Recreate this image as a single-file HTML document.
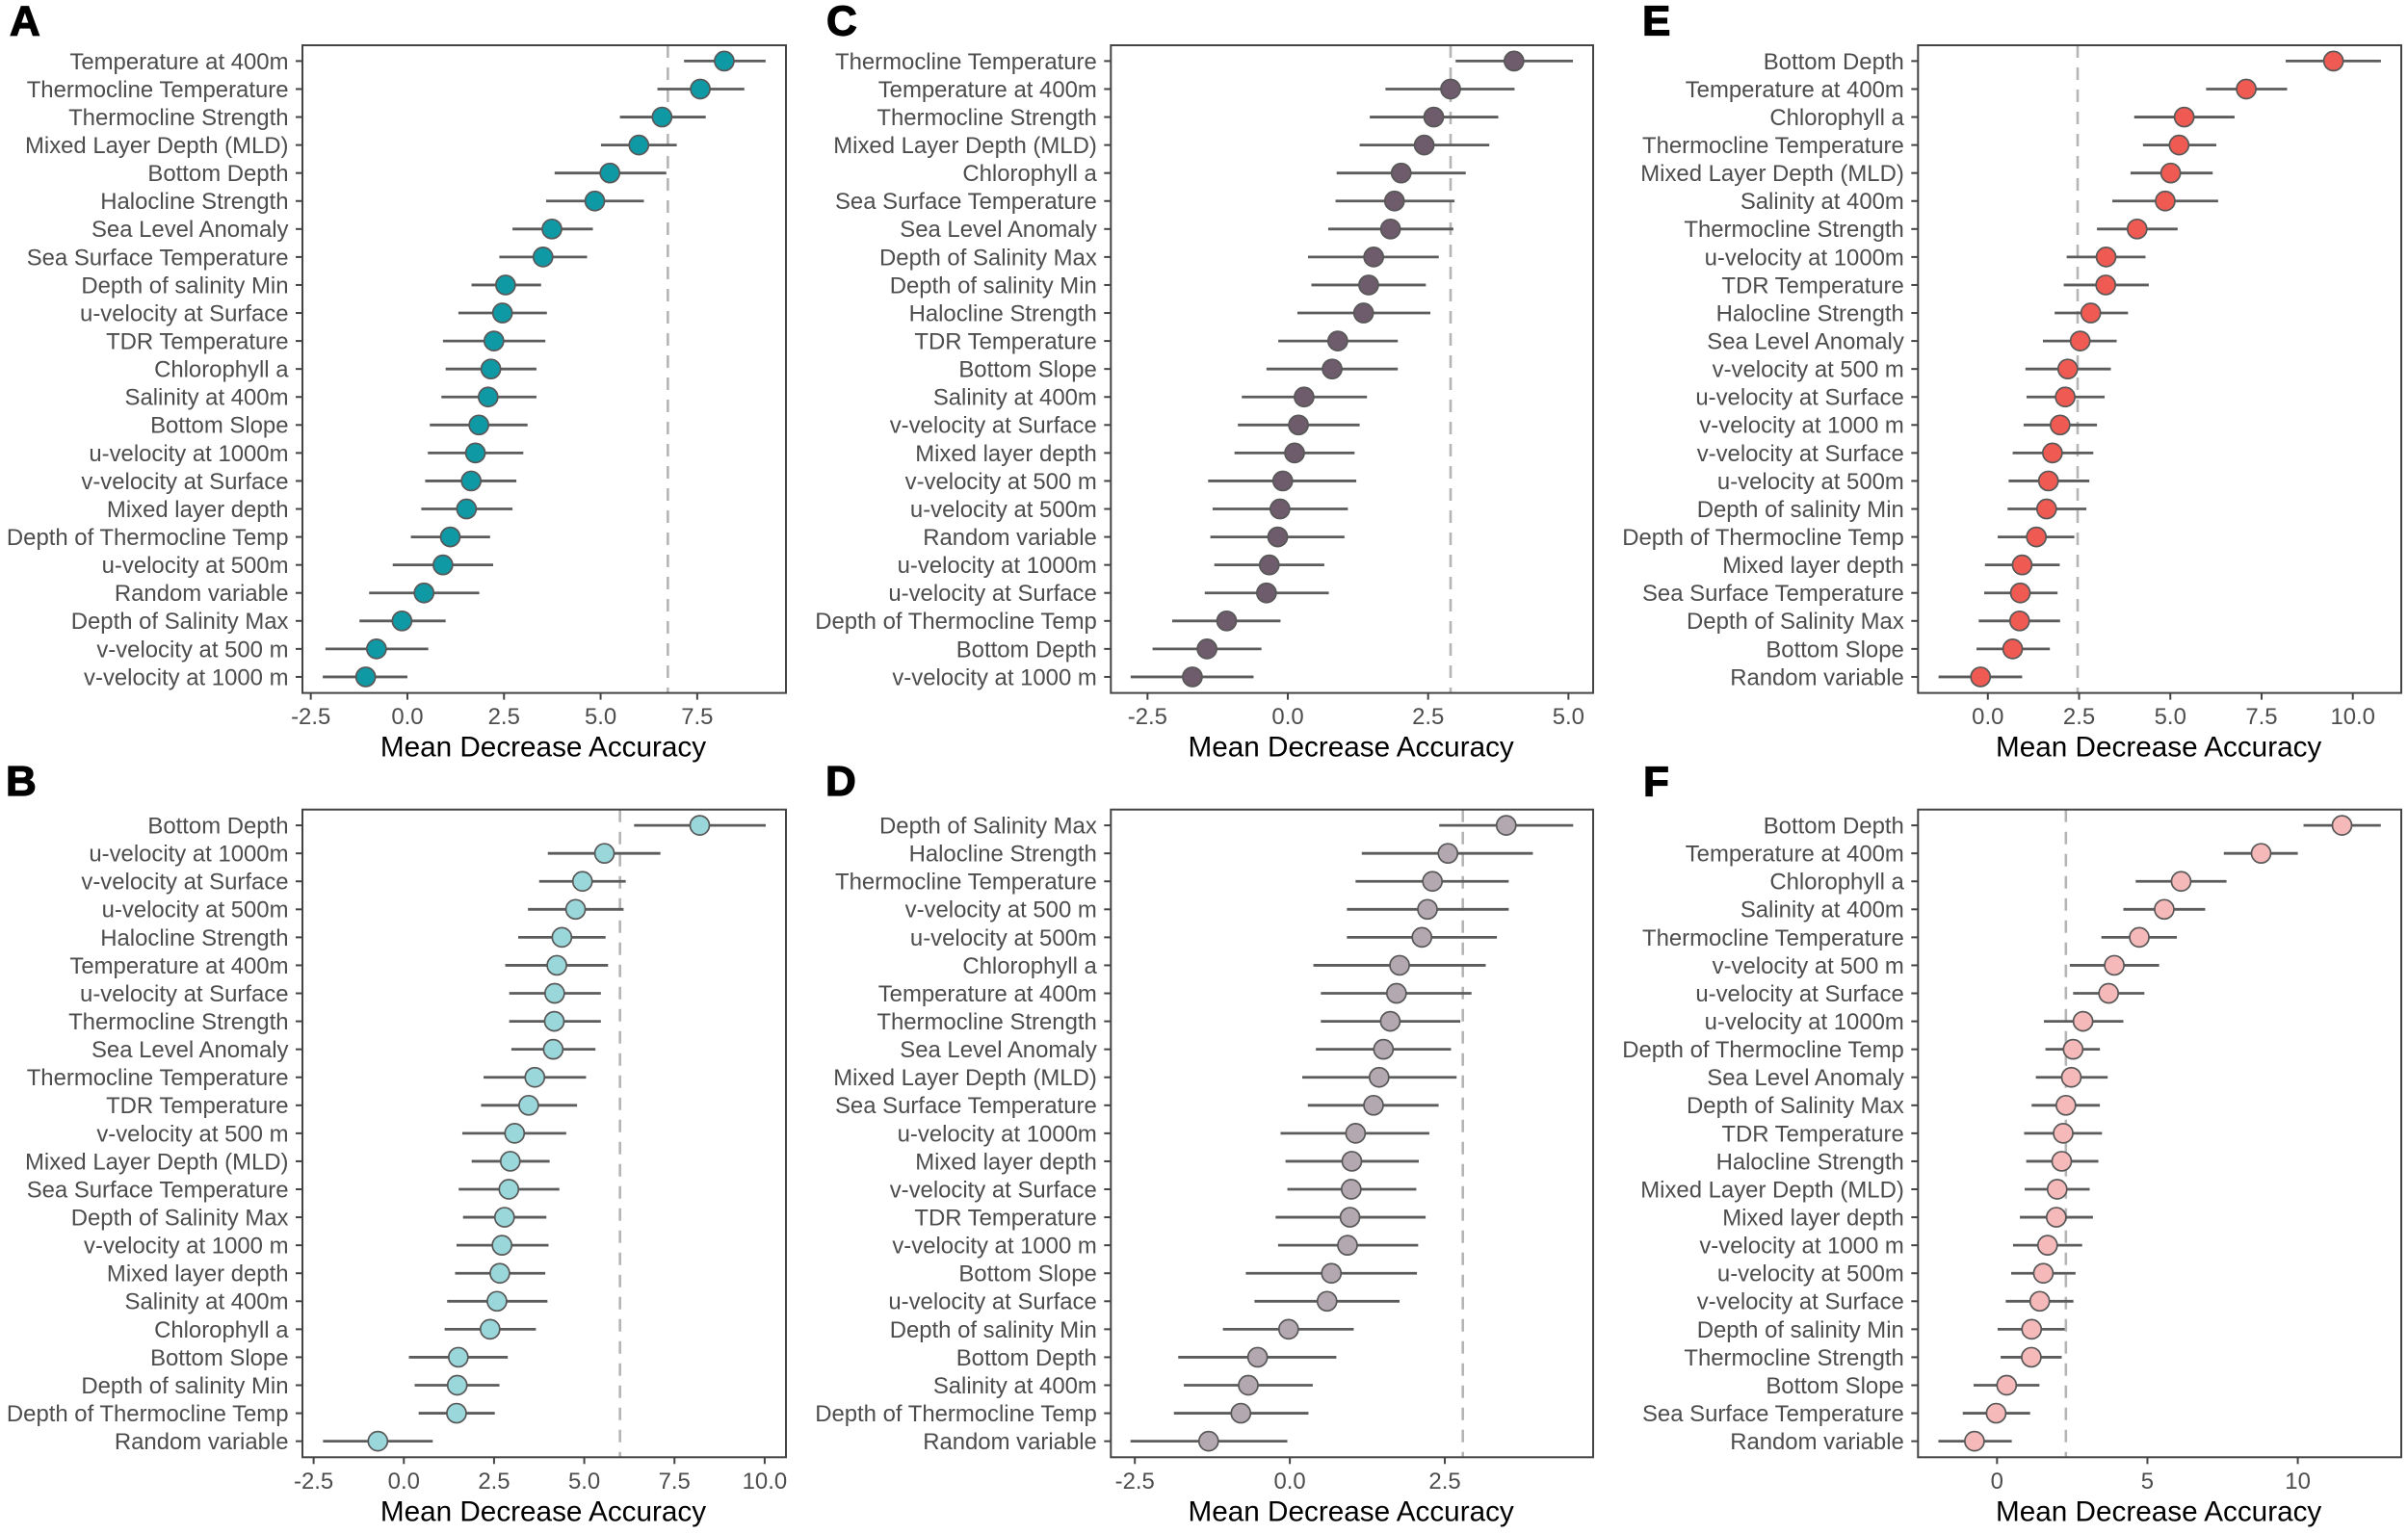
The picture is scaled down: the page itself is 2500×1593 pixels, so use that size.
<!DOCTYPE html>
<html lang="en">
<head>
<meta charset="utf-8">
<title>Mean Decrease Accuracy panels</title>
<style>
html,body{margin:0;padding:0;background:#fff;}
svg{display:block;font-family:"Liberation Sans",Arial,sans-serif;}
</style>
</head>
<body>
<svg id="figure" width="2500" height="1593" viewBox="0 0 2500 1593" xmlns="http://www.w3.org/2000/svg"></svg>
<script>
const labelsA = ["Temperature at 400m","Thermocline Temperature","Thermocline Strength","Mixed Layer Depth (MLD)","Bottom Depth","Halocline Strength","Sea Level Anomaly","Sea Surface Temperature","Depth of salinity Min","u-velocity at Surface","TDR Temperature","Chlorophyll a","Salinity at 400m","Bottom Slope","u-velocity at 1000m","v-velocity at Surface","Mixed layer depth","Depth of Thermocline Temp","u-velocity at 500m","Random variable","Depth of Salinity Max","v-velocity at 500 m","v-velocity at 1000 m"];
const meanA = [8.2,7.58,6.59,5.99,5.24,4.85,3.74,3.51,2.54,2.46,2.24,2.16,2.09,1.85,1.76,1.65,1.53,1.11,0.92,0.43,-0.14,-0.8,-1.08];
const lowA = [7.16,6.47,5.5,5.01,3.81,3.59,2.72,2.38,1.66,1.32,0.92,0.99,0.88,0.58,0.53,0.46,0.36,0.09,-0.38,-0.99,-1.24,-2.12,-2.19];
const highA = [9.27,8.72,7.72,6.97,6.7,6.12,4.8,4.65,3.46,3.61,3.57,3.34,3.34,3.11,3.0,2.82,2.72,2.14,2.22,1.86,0.99,0.54,0];
const ticksA = [-2.5,0,2.5,5,7.5];
const tickLabelsA = ["-2.5","0.0","2.5","5.0","7.5"];
const cutoffA = [6.74];

const labelsB = ["Bottom Depth","u-velocity at 1000m","v-velocity at Surface","u-velocity at 500m","Halocline Strength","Temperature at 400m","u-velocity at Surface","Thermocline Strength","Sea Level Anomaly","Thermocline Temperature","TDR Temperature","v-velocity at 500 m","Mixed Layer Depth (MLD)","Sea Surface Temperature","Depth of Salinity Max","v-velocity at 1000 m","Mixed layer depth","Salinity at 400m","Chlorophyll a","Bottom Slope","Depth of salinity Min","Depth of Thermocline Temp","Random variable"];
const meanB = [8.2,5.56,4.95,4.76,4.38,4.24,4.18,4.17,4.14,3.63,3.46,3.07,2.95,2.91,2.79,2.72,2.66,2.58,2.39,1.51,1.48,1.46,-0.72];
const lowB = [6.38,3.99,3.75,3.44,3.17,2.81,2.92,2.92,2.98,2.21,2.14,1.62,1.88,1.52,1.64,1.46,1.42,1.2,1.13,0.14,0.3,0.41,-2.24];
const highB = [10.03,7.11,6.15,6.09,5.59,5.66,5.46,5.46,5.31,5.05,4.8,4.5,4.04,4.31,3.95,4.01,3.92,3.98,3.66,2.88,2.65,2.52,0.8];
const ticksB = [-2.5,0,2.5,5,7.5,10];
const tickLabelsB = ["-2.5","0.0","2.5","5.0","7.5","10.0"];
const cutoffB = [5.99];

const labelsC = ["Thermocline Temperature","Temperature at 400m","Thermocline Strength","Mixed Layer Depth (MLD)","Chlorophyll a","Sea Surface Temperature","Sea Level Anomaly","Depth of Salinity Max","Depth of salinity Min","Halocline Strength","TDR Temperature","Bottom Slope","Salinity at 400m","v-velocity at Surface","Mixed layer depth","v-velocity at 500 m","u-velocity at 500m","Random variable","u-velocity at 1000m","u-velocity at Surface","Depth of Thermocline Temp","Bottom Depth","v-velocity at 1000 m"];
const meanC = [4.03,2.9,2.6,2.43,2.02,1.9,1.83,1.53,1.44,1.35,0.89,0.79,0.29,0.19,0.12,-0.09,-0.14,-0.18,-0.33,-0.38,-1.09,-1.44,-1.7];
const lowC = [2.99,1.74,1.46,1.28,0.87,0.85,0.72,0.36,0.42,0.17,-0.17,-0.38,-0.82,-0.89,-0.95,-1.42,-1.34,-1.38,-1.31,-1.48,-2.06,-2.41,-2.8];
const highC = [5.08,4.04,3.75,3.59,3.17,2.97,2.95,2.69,2.46,2.54,1.96,1.96,1.41,1.28,1.19,1.22,1.07,1.01,0.65,0.73,-0.13,-0.47,-0.61];
const ticksC = [-2.5,0,2.5,5];
const tickLabelsC = ["-2.5","0.0","2.5","5.0"];
const cutoffC = [2.9];

const labelsD = ["Depth of Salinity Max","Halocline Strength","Thermocline Temperature","v-velocity at 500 m","u-velocity at 500m","Chlorophyll a","Temperature at 400m","Thermocline Strength","Sea Level Anomaly","Mixed Layer Depth (MLD)","Sea Surface Temperature","u-velocity at 1000m","Mixed layer depth","v-velocity at Surface","TDR Temperature","v-velocity at 1000 m","Bottom Slope","u-velocity at Surface","Depth of salinity Min","Bottom Depth","Salinity at 400m","Depth of Thermocline Temp","Random variable"];
const meanD = [3.49,2.55,2.3,2.22,2.13,1.77,1.72,1.62,1.51,1.44,1.35,1.06,1.0,0.99,0.97,0.93,0.67,0.6,-0.02,-0.52,-0.67,-0.79,-1.31];
const lowD = [2.41,1.16,1.06,0.92,0.92,0.38,0.5,0.5,0.42,0.2,0.29,-0.15,-0.07,-0.04,-0.23,-0.19,-0.71,-0.57,-1.08,-1.8,-1.71,-1.87,-2.57];
const highD = [4.57,3.92,3.53,3.53,3.34,3.16,2.93,2.75,2.6,2.69,2.4,2.25,2.08,2.04,2.19,2.07,2.05,1.77,1.03,0.75,0.37,0.3,-0.04];
const ticksD = [-2.5,0,2.5];
const tickLabelsD = ["-2.5","0.0","2.5"];
const cutoffD = [2.79];

const labelsE = ["Bottom Depth","Temperature at 400m","Chlorophyll a","Thermocline Temperature","Mixed Layer Depth (MLD)","Salinity at 400m","Thermocline Strength","u-velocity at 1000m","TDR Temperature","Halocline Strength","Sea Level Anomaly","v-velocity at 500 m","u-velocity at Surface","v-velocity at 1000 m","v-velocity at Surface","u-velocity at 500m","Depth of salinity Min","Depth of Thermocline Temp","Mixed layer depth","Sea Surface Temperature","Depth of Salinity Max","Bottom Slope","Random variable"];
const meanE = [9.47,7.08,5.38,5.24,5.01,4.86,4.09,3.24,3.23,2.82,2.53,2.19,2.12,1.98,1.77,1.66,1.61,1.33,0.94,0.89,0.87,0.68,-0.2];
const lowE = [8.16,5.98,4.01,4.25,3.91,3.41,2.99,2.16,2.08,1.83,1.51,1.03,1.06,0.98,0.68,0.57,0.54,0.27,-0.08,-0.1,-0.25,-0.31,-1.35];
const highE = [10.77,8.2,6.76,6.26,6.16,6.31,5.2,4.32,4.41,3.84,3.53,3.37,3.2,2.99,2.89,2.78,2.7,2.37,1.97,1.91,1.98,1.7,0.94];
const ticksE = [0,2.5,5,7.5,10];
const tickLabelsE = ["0.0","2.5","5.0","7.5","10.0"];
const cutoffE = [2.46];

const labelsF = ["Bottom Depth","Temperature at 400m","Chlorophyll a","Salinity at 400m","Thermocline Temperature","v-velocity at 500 m","u-velocity at Surface","u-velocity at 1000m","Depth of Thermocline Temp","Sea Level Anomaly","Depth of Salinity Max","TDR Temperature","Halocline Strength","Mixed Layer Depth (MLD)","Mixed layer depth","v-velocity at 1000 m","u-velocity at 500m","v-velocity at Surface","Depth of salinity Min","Thermocline Strength","Bottom Slope","Sea Surface Temperature","Random variable"];
const meanF = [11.47,8.78,6.12,5.56,4.73,3.9,3.71,2.86,2.53,2.47,2.29,2.2,2.15,2.0,1.97,1.68,1.54,1.42,1.15,1.14,0.32,-0.03,-0.75];
const lowF = [10.19,7.54,4.61,4.2,3.47,2.42,2.53,1.56,1.61,1.29,1.15,0.9,0.97,0.92,0.76,0.53,0.47,0.29,0.02,0.12,-0.78,-1.14,-1.95];
const highF = [12.76,10,7.63,6.92,5.98,5.39,4.9,4.2,3.42,3.68,3.42,3.49,3.37,3.08,3.19,2.83,2.61,2.54,2.25,2.15,1.41,1.1,0.49];
const ticksF = [0,5,10];
const tickLabelsF = ["0","5","10"];
const cutoffF = [2.29];

const svgNS = "http://www.w3.org/2000/svg";
const figure = document.getElementById("figure");

function make(parent, tag, attrs, text) {
  const node = document.createElementNS(svgNS, tag);
  for (const key in attrs) node.setAttribute(key, attrs[key]);
  if (text !== undefined) node.textContent = text;
  parent.appendChild(node);
  return node;
}

function drawPanel(p) {
  const xScale = v => p.left + (v - p.domain[0]) / (p.domain[1] - p.domain[0]) * (p.right - p.left);
  const yScale = i => p.top + 16.4 + i * 29.07;
  const bottom = p.top + 672.6;
  const lc = p.letter.toLowerCase();

  const g = make(figure, "g", {});
  
  

  const letter = make(g, "text", {x: p.letterX, y: p.letterY, "font-size": 44, "font-weight": 700, fill: "#000", stroke: "#000", "stroke-width": 1.2}, p.letter);
  
  

  const cutoff = make(g, "line", {x1: xScale(p.cutoff[0]), x2: xScale(p.cutoff[0]), y1: p.top, y2: bottom, stroke: "#b5b5b5", "stroke-width": 2.6, "stroke-dasharray": "13 10"});
  
  

  p.labels.forEach((label, i) => {
    const y = yScale(i);
    const tick = make(g, "line", {x1: p.left - 7, x2: p.left, y1: y, y2: y, stroke: "#444", "stroke-width": 2});
    
    

    const text = make(g, "text", {x: p.left - 14.5, y: y + 8.4, "text-anchor": "end", "font-size": 23.9, fill: "#4d4d4d"}, label);
    
    

    const whisker = make(g, "line", {x1: xScale(p.low[i]), x2: xScale(p.high[i]), y1: y, y2: y, stroke: "#5c5c5c", "stroke-width": 2.8});
    
    

    const dot = make(g, "circle", {cx: xScale(p.mean[i]), cy: y, r: 10, fill: p.color, stroke: "#585858", "stroke-width": 1.7});
    
    
  });

  p.ticks.forEach((t, i) => {
    const x = xScale(t);
    const tick = make(g, "line", {x1: x, x2: x, y1: bottom, y2: bottom + 7, stroke: "#444", "stroke-width": 2});
    
    

    const text = make(g, "text", {x: x, y: bottom + 32.5, "text-anchor": "middle", "font-size": 23.9, fill: "#4d4d4d"}, p.tickLabels[i]);
    
    
  });

  const frame = make(g, "rect", {x: p.left, y: p.top, width: p.right - p.left, height: bottom - p.top, fill: "none", stroke: "#444", "stroke-width": 2});
  
  

  const title = make(g, "text", {x: (p.left + p.right) / 2 - 1, y: bottom + 66, "text-anchor": "middle", "font-size": 29.7, fill: "#000"}, "Mean Decrease Accuracy");
  
  
}

const rowTop = 47;
const rowBottom = 840.7;

drawPanel({letter: "A", letterX: 10, letterY: 36.7, left: 314, right: 816, top: rowTop, domain: [-2.716, 9.797], color: "#0f99a5",
  labels: labelsA, mean: meanA, low: lowA, high: highA, ticks: ticksA, tickLabels: tickLabelsA, cutoff: cutoffA});
drawPanel({letter: "B", letterX: 6, letterY: 826, left: 314, right: 816, top: rowBottom, domain: [-2.81, 10.59], color: "#9ad7da",
  labels: labelsB, mean: meanB, low: lowB, high: highB, ticks: ticksB, tickLabels: tickLabelsB, cutoff: cutoffB});
drawPanel({letter: "C", letterX: 858, letterY: 36.7, left: 1153.3, right: 1654, top: rowTop, domain: [-3.153, 5.44], color: "#6e5b6b",
  labels: labelsC, mean: meanC, low: lowC, high: highC, ticks: ticksC, tickLabels: tickLabelsC, cutoff: cutoffC});
drawPanel({letter: "D", letterX: 857, letterY: 826, left: 1153.3, right: 1654, top: rowBottom, domain: [-2.887, 4.892], color: "#b4a8b0",
  labels: labelsD, mean: meanD, low: lowD, high: highD, ticks: ticksD, tickLabels: tickLabelsD, cutoff: cutoffD});
drawPanel({letter: "E", letterX: 1705, letterY: 36.7, left: 1991.3, right: 2493, top: rowTop, domain: [-1.913, 11.327], color: "#ef5b52",
  labels: labelsE, mean: meanE, low: lowE, high: highE, ticks: ticksE, tickLabels: tickLabelsE, cutoff: cutoffE});
drawPanel({letter: "F", letterX: 1706, letterY: 826.5, left: 1991.3, right: 2493, top: rowBottom, domain: [-2.627, 13.44], color: "#f6b9b9",
  labels: labelsF, mean: meanF, low: lowF, high: highF, ticks: ticksF, tickLabels: tickLabelsF, cutoff: cutoffF});
</script>
</body>
</html>
